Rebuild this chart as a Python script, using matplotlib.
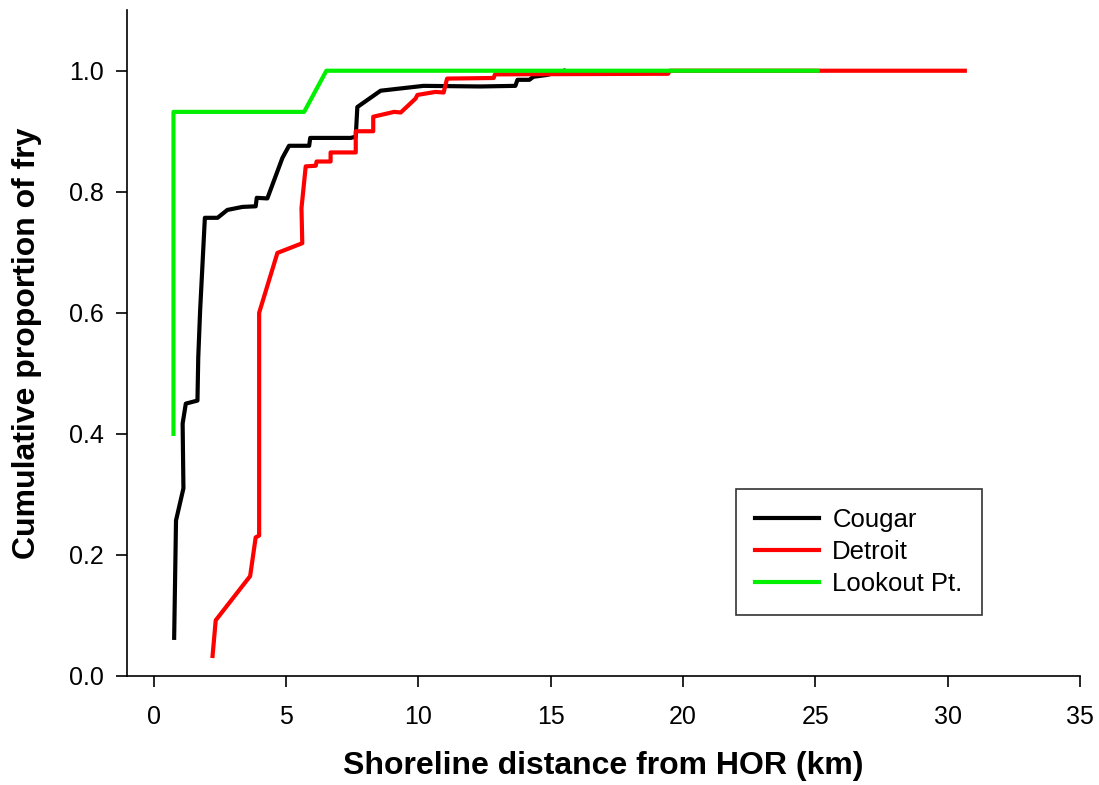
import matplotlib
matplotlib.use("Agg")
import matplotlib.pyplot as plt

plt.rcParams['font.family'] = ['Liberation Sans', 'DejaVu Sans']

# data (distance km, cumulative proportion)
cougar_x = [0.78, 0.85, 1.13, 1.10, 1.22, 1.66, 1.69, 1.76, 1.94, 2.42, 2.79, 3.36, 3.86,
            3.90, 4.30, 4.87, 5.12, 5.88, 5.92, 7.45, 7.64, 7.70, 8.58, 10.2, 12.35,
            13.67, 13.75, 14.2, 14.35, 14.86, 15.5]
cougar_y = [0.063, 0.257, 0.31, 0.417, 0.45, 0.455, 0.526, 0.603, 0.757, 0.757, 0.77,
            0.775, 0.776, 0.79, 0.789, 0.856, 0.876, 0.876, 0.889, 0.889, 0.891, 0.94,
            0.967, 0.975, 0.974, 0.975, 0.985, 0.985, 0.99, 0.993, 1.0]

detroit_x = [2.23, 2.35, 3.65, 3.86, 3.99, 3.99, 4.68, 5.62, 5.59, 5.75, 6.13, 6.16,
             6.69, 6.69, 7.64, 7.64, 8.30, 8.30, 9.09, 9.34, 9.90, 9.97, 10.65, 10.96,
             11.09, 12.85, 12.9, 19.44, 19.5, 30.65]
detroit_y = [0.033, 0.092, 0.165, 0.229, 0.232, 0.60, 0.699, 0.715, 0.773, 0.842, 0.843,
             0.85, 0.85, 0.865, 0.865, 0.90, 0.90, 0.924, 0.932, 0.931, 0.954, 0.96,
             0.965, 0.964, 0.987, 0.988, 0.994, 0.995, 1.0, 1.0]

lookout_x = [0.755, 0.755, 5.69, 6.53, 25.09]
lookout_y = [0.40, 0.932, 0.932, 1.0, 1.0]

fig = plt.figure(figsize=(10.99, 7.85), dpi=100)
ax = fig.add_axes([0.1156, 0.1389, 0.8671, 0.8481])

ax.plot(cougar_x, cougar_y, color='black', lw=3, label='Cougar')
ax.plot(detroit_x, detroit_y, color='#ff0000', lw=3, label='Detroit')
ax.plot(lookout_x, lookout_y, color='#00f000', lw=3, label='Lookout Pt.')

ax.set_xlim(-1, 35)
ax.set_ylim(0, 1.1)
ax.set_xticks(range(0, 36, 5))
ax.set_yticks([0.0, 0.2, 0.4, 0.6, 0.8, 1.0])
ax.set_yticklabels(['0.0', '0.2', '0.4', '0.6', '0.8', '1.0'])
ax.spines['top'].set_visible(False)
ax.spines['right'].set_visible(False)
for s in ['left', 'bottom']:
    ax.spines[s].set_linewidth(1.2)
ax.tick_params(axis='x', direction='out', length=8, width=1.2, pad=13, labelsize=18)
ax.tick_params(axis='y', direction='out', length=8, width=1.2, pad=9, labelsize=18)

ax.set_xlabel('Shoreline distance from HOR (km)', fontsize=23, fontweight='bold', labelpad=16)
ax.set_ylabel('Cumulative proportion of fry', fontsize=23, fontweight='bold', labelpad=19)

leg = ax.legend(loc='lower right', bbox_to_anchor=(0.897, 0.0916), fontsize=18.5,
                frameon=True, fancybox=False, edgecolor='black', handlelength=2.5,
                handletextpad=0.5, borderpad=0.75, labelspacing=0.3, borderaxespad=0)
leg.get_frame().set_linewidth(1.2)

fig.savefig('out.png', dpi=100)
